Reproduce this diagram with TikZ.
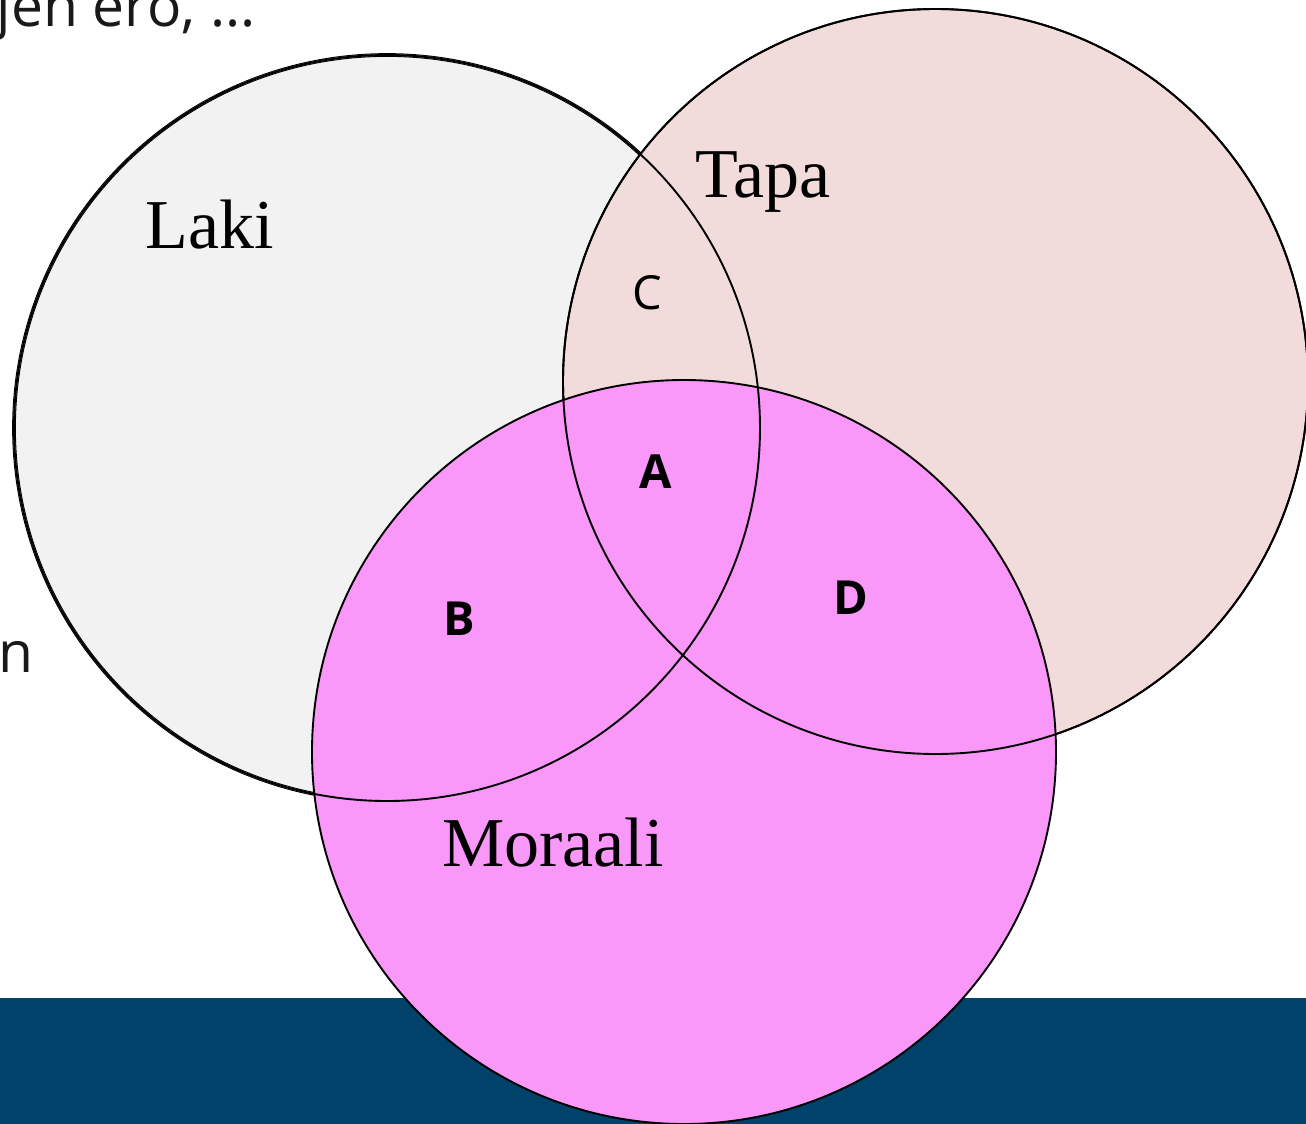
\documentclass[tikz,border=0pt]{standalone}
\usepackage{fontspec}
\setmainfont{Liberation Serif}
\newfontfamily\labfont{Open Sans}
\definecolor{lakifill}{RGB}{242,242,242}
\definecolor{tapafill}{RGB}{242,220,219}
\definecolor{morfill}{RGB}{250,152,250}
\definecolor{barblue}{RGB}{0,66,106}
\tikzset{
  circline/.style={line width=1.9pt, draw=black},
  setname/.style={font=\fontsize{70}{76}\selectfont, inner sep=0pt},
  region/.style={font=\labfont\fontsize{47}{52}\selectfont, inner sep=0pt},
  boldregion/.style={font=\labfont\bfseries\fontsize{47}{52}\selectfont, inner sep=0pt},
  bodytext/.style={font=\labfont\fontsize{57}{62}\selectfont, inner sep=0pt, text=black!90}
}
\begin{document}
\begin{tikzpicture}[x=1pt,y=-1pt]
\useasboundingbox (0,0) rectangle (1306,1124);
\clip (0,0) rectangle (1306,1124);
\fill[white] (0,0) rectangle (1306,1124);
% bottom bar
\fill[barblue] (0,998) rectangle (1306,1124);
% body text fragments
\node[bodytext, anchor=base east] (t1) at (256,27) {jen ero, ...};
\node[bodytext, anchor=base east] (t2) at (34,672) {n};
% circles
\coordinate (cL) at (387,428);
\coordinate (cT) at (935.5,381.5);
\coordinate (cM) at (684,752);
\fill[lakifill] (cL) circle (373);
\draw[double=lakifill, double distance=1.5pt, line width=1.1pt] (cL) circle (373);
\fill[tapafill] (cT) circle (372.5);
\draw[circline] (cT) circle (372.5);
\fill[morfill] (cM) circle (372);
\draw[circline] (cM) circle (372);
\draw[circline] (cL) circle (373);
\draw[circline] (cT) circle (372.5);
% labels
\node[setname, anchor=base] (laki) at (210,248) {Laki};
\node[setname, anchor=base] (tapa) at (763,197) {Tapa};
\node[setname, anchor=base] (moraali) at (553,866) {Moraali};
\node[region] (C) at (647,293) {C};
\node[boldregion] (A) at (656,472) {A};
\node[boldregion] (B) at (459,619) {B};
\node[boldregion] (D) at (851,598) {D};
\end{tikzpicture}
\end{document}
